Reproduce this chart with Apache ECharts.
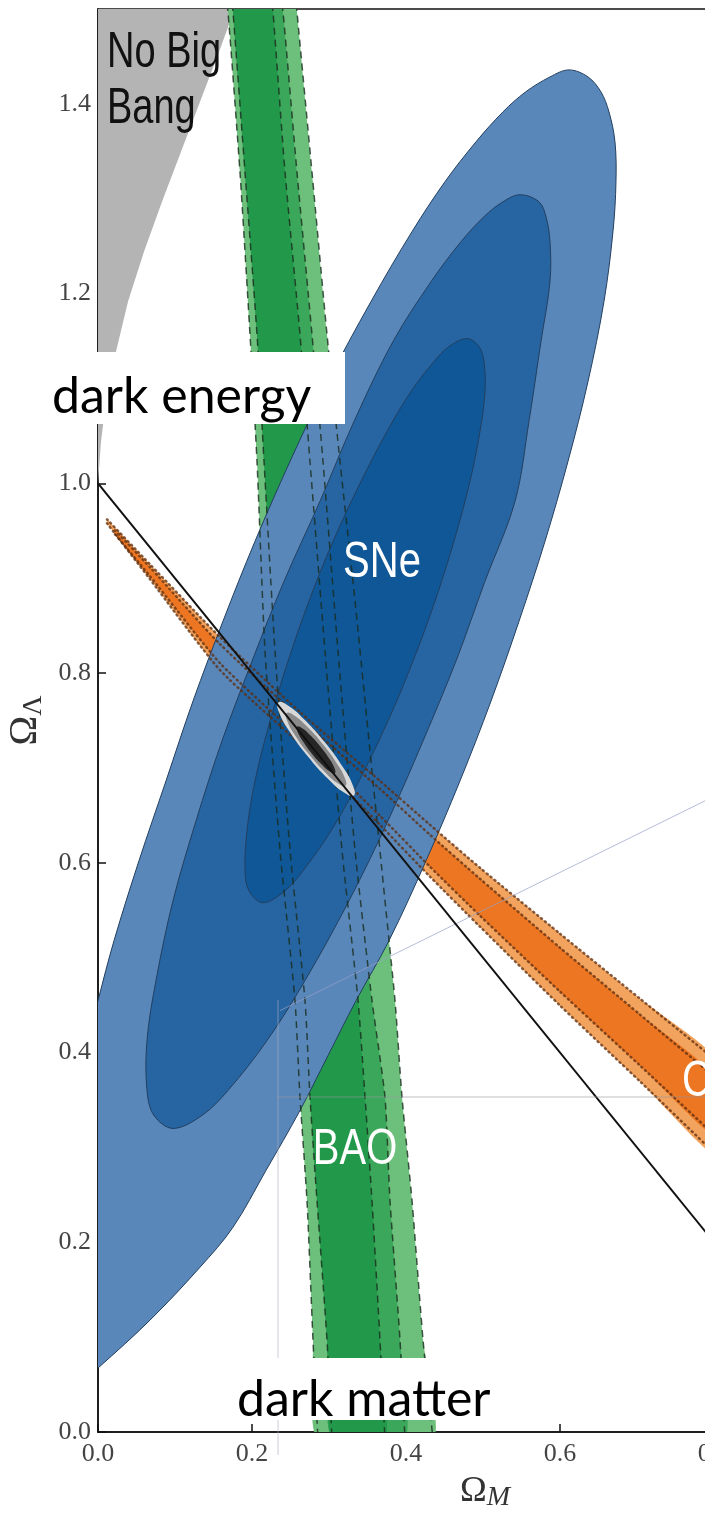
<!DOCTYPE html>
<html><head><meta charset="utf-8">
<script src="https://cdn.jsdelivr.net/npm/echarts@6/dist/echarts.min.js"></script>
<style>html,body{margin:0;padding:0;background:#fff;overflow:hidden}#c{width:719px;height:1520px}</style>
</head><body><div id="c"></div>
<script>
// ---- data (Omega_M, Omega_Lambda) ----
const noBigBang = [[0,1.5],[0.1775,1.5],[0.1571,1.4547],[0.1325,1.4021],[0.1078,1.3495],[0.0831,1.2968],[0.0597,1.2442],[0.039,1.1916],[0.0234,1.1389],[0.0104,1.0863],[0.0039,1.0442],[0,1.0]];

const sneOuter = [[0.6117,1.4358],[0.6364,1.4284],[0.6532,1.4126],[0.6636,1.3916],[0.6714,1.36],[0.6727,1.3179],[0.6688,1.2653],[0.6571,1.1916],[0.6364,1.1074],[0.6104,1.0232],[0.5805,0.9389],[0.5468,0.8547],[0.5104,0.7705],[0.4701,0.6863],[0.426,0.6021],[0.3779,0.5179],[0.3351,0.4547],[0.2987,0.3968],[0.2623,0.3389],[0.2182,0.2758],[0.1753,0.2158],[0.1325,0.1737],[0.0675,0.1179],[0,0.0674],[-0.0364,0.0421],[-0.0623,0.0284],[-0.0779,0.0495],[-0.0753,0.0968],[-0.0623,0.1811],[-0.0468,0.2758],[-0.026,0.3705],[0,0.4547],[0.0208,0.5179],[0.0532,0.6021],[0.0883,0.6863],[0.1234,0.7705],[0.1623,0.8547],[0.2039,0.9389],[0.2494,1.0232],[0.2987,1.1074],[0.3545,1.1916],[0.4078,1.2653],[0.4506,1.3179],[0.4909,1.36],[0.526,1.3916],[0.5553,1.4126],[0.587,1.4284]];
const sneMiddle = [[0.5481,1.3042],[0.5727,1.2968],[0.5818,1.2811],[0.587,1.2547],[0.587,1.2126],[0.5753,1.1495],[0.5597,1.0653],[0.5416,0.9811],[0.5026,0.8968],[0.4649,0.8126],[0.4221,0.7284],[0.3766,0.6442],[0.326,0.56],[0.2688,0.4758],[0.2195,0.4126],[0.1688,0.36],[0.1351,0.3337],[0.0974,0.32],[0.0727,0.3337],[0.0636,0.36],[0.0636,0.4126],[0.0753,0.4758],[0.0974,0.56],[0.1273,0.6442],[0.161,0.7284],[0.2,0.8126],[0.2416,0.8968],[0.2883,0.9811],[0.3325,1.0653],[0.3831,1.1495],[0.4325,1.2126],[0.4714,1.2547],[0.5013,1.2811],[0.526,1.2968]];
const sneInner = [[0.4792,1.1526],[0.4948,1.1442],[0.5013,1.1284],[0.5026,1.0968],[0.4961,1.0547],[0.4831,1.0021],[0.4623,0.9389],[0.4377,0.8758],[0.4091,0.8126],[0.3766,0.7495],[0.339,0.6863],[0.3026,0.6337],[0.2662,0.5916],[0.2429,0.5705],[0.2143,0.5579],[0.1961,0.5705],[0.1909,0.5916],[0.1935,0.6337],[0.2039,0.6863],[0.2234,0.7495],[0.2468,0.8126],[0.274,0.8758],[0.3052,0.9389],[0.3416,1.0021],[0.3753,1.0547],[0.4065,1.0968],[0.4364,1.1284],[0.4558,1.1442]];

const baoOuterLeft = [[0.1649,1.518],[0.1688,1.497],[0.1844,1.328],[0.1974,1.157],[0.2065,1.023],[0.2169,0.823],[0.2364,0.613],[0.2558,0.455],[0.2623,0.353],[0.2714,0.244],[0.2792,0.097],[0.2857,-0.008]];
const baoOuterRight = [[0.2558,1.518],[0.2584,1.497],[0.2779,1.328],[0.2974,1.157],[0.3143,1.023],[0.3338,0.876],[0.3532,0.718],[0.3727,0.56],[0.3857,0.455],[0.3948,0.353],[0.4078,0.244],[0.4221,0.097],[0.4351,-0.008]];
const baoDarkLeft = [[0.1727,1.518],[0.1753,1.497],[0.1909,1.328],[0.2065,1.157],[0.2156,1.023],[0.2299,0.823],[0.2494,0.613],[0.2688,0.455],[0.2753,0.353],[0.2844,0.244],[0.2974,0.097],[0.3039,-0.008]];
const baoDarkRight = [[0.2247,1.518],[0.2273,1.497],[0.2429,1.328],[0.2623,1.157],[0.2753,1.023],[0.2948,0.823],[0.3169,0.613],[0.3377,0.455],[0.3468,0.353],[0.3558,0.244],[0.3662,0.097],[0.3727,-0.008]];
const baoMidRight = [[0.2364,1.518],[0.2403,1.497],[0.2584,1.328],[0.2779,1.157],[0.2922,1.023],[0.3117,0.823],[0.3338,0.613],[0.3558,0.455],[0.3727,0.353],[0.3792,0.244],[0.3922,0.097],[0.3987,-0.008]];

const cmbOuterUpper = [[0.0117,0.9621],[0.0675,0.9147],[0.1584,0.8379],[0.2623,0.7589],[0.3662,0.6863],[0.4312,0.64],[0.4961,0.5947],[0.6,0.5253],[0.7039,0.4568],[0.8078,0.3884]];
const cmbOuterLower = [[0.0117,0.9579],[0.0675,0.8989],[0.1584,0.8032],[0.2623,0.7253],[0.3662,0.64],[0.4312,0.5853],[0.4961,0.5326],[0.6,0.4495],[0.7039,0.3695],[0.8078,0.2884]];
const cmbInnerUpper = [[0.0221,0.9505],[0.0675,0.9116],[0.1584,0.8305],[0.2623,0.7526],[0.3662,0.6779],[0.4312,0.6295],[0.4961,0.5832],[0.6,0.5105],[0.7039,0.44],[0.8078,0.3695]];
const cmbInnerLower = [[0.0221,0.9463],[0.0675,0.9021],[0.1584,0.8105],[0.2623,0.7316],[0.3662,0.6495],[0.4312,0.5958],[0.4961,0.5442],[0.6,0.4642],[0.7039,0.3863],[0.8078,0.3074]];

const combOuter = [[0.3322,0.6709],[0.3312,0.6812],[0.3173,0.7018],[0.2943,0.7273],[0.2682,0.7508],[0.2462,0.7662],[0.234,0.7691],[0.2351,0.7588],[0.249,0.7382],[0.2721,0.7127],[0.2981,0.6892],[0.32,0.6738]];
const combMid = [[0.3214,0.6812],[0.3206,0.6893],[0.3098,0.7053],[0.2918,0.7252],[0.2715,0.7436],[0.2543,0.7556],[0.2448,0.7578],[0.2457,0.7498],[0.2565,0.7337],[0.2745,0.7138],[0.2948,0.6955],[0.3119,0.6835]];
const combCore = [[0.3077,0.6944],[0.3072,0.6996],[0.3002,0.7099],[0.2887,0.7226],[0.2757,0.7344],[0.2647,0.7421],[0.2586,0.7435],[0.2591,0.7384],[0.2661,0.7281],[0.2776,0.7153],[0.2906,0.7036],[0.3016,0.6959]];

const flatLine = [[0,1],[1,0]];
// faint ghost trend line visible in the lower right of the picture
const ghostTrend = [[0.2364,0.4442],[0.7883,0.6653]];

const centeredLabels = ['SNe','BAO'];
const centeredLabelPos = [[0.3688,0.9158],[0.3338,0.2968]];
const leftLabels = ['CMB'];
const leftLabelPos = [[0.7584,0.3684]];
const noBigBangLines = ['No Big','Bang'];
const noBigBangPos = [[0.0117,1.4537],[0.0117,1.3937]];

// ---- helpers ----
function rev(a){ return a.slice().reverse(); }
function shapeSeries(pts, z, style, isLine, smooth){
  return {
    type:'custom', coordinateSystem:'cartesian2d', clip:true, silent:true, z:z,
    data: pts,
    renderItem: function(params, api){
      if (params.dataIndex !== 0) return null;
      return {
        type: isLine ? 'polyline' : 'polygon',
        shape: { points: pts.map(function(p){ return api.coord(p); }), smooth: smooth || 0 },
        style: Object.assign({}, style)
      };
    }
  };
}
function textSeries(texts, pos, z, style, align, sy){
  return {
    type:'custom', coordinateSystem:'cartesian2d', clip:false, silent:true, z:z,
    data: pos,
    renderItem: function(params, api){
      const i = params.dataIndex;
      const c = api.coord(pos[i]);
      return {
        type:'text', x:c[0], y:c[1], scaleY:sy,
        style: Object.assign({ text: texts[i], align: align, verticalAlign:'middle' }, style)
      };
    }
  };
}

const baoLine = { fill:null, stroke:'rgba(25,45,30,0.8)', lineWidth:1.5, lineDash:[7,5] };
const cmbLine = { fill:null, stroke:'rgba(95,45,15,0.75)', lineWidth:2.5, lineDash:[1,4], lineCap:'round' };
const sneEdge = '#223f60';
const whiteLabel = { fill:'#fff', fontFamily:'Liberation Sans', fontSize:40 };

const series = [
  shapeSeries(noBigBang, 1, { fill:'#b4b4b4' }, false, 0),
  shapeSeries(baoOuterLeft.concat(rev(baoOuterRight)), 2, { fill:'#6dc07b' }, false, 0.2),
  shapeSeries(baoDarkLeft.concat(rev(baoMidRight)), 3, { fill:'#3ba75a' }, false, 0.2),
  shapeSeries(baoDarkLeft.concat(rev(baoDarkRight)), 4, { fill:'#22994a' }, false, 0.2),
  shapeSeries(cmbOuterUpper.concat(rev(cmbOuterLower)), 5, { fill:'#f2a35e' }, false, 0.2),
  shapeSeries(cmbInnerUpper.concat(rev(cmbInnerLower)), 6, { fill:'#ec7622' }, false, 0.2),
  shapeSeries(sneOuter, 7, { fill:'#5a87b9', stroke:sneEdge, lineWidth:1 }, false, 0.35),
  shapeSeries(sneMiddle, 8, { fill:'#2765a2', stroke:sneEdge, lineWidth:1 }, false, 0.35),
  shapeSeries(sneInner, 9, { fill:'#0f5797', stroke:sneEdge, lineWidth:1 }, false, 0.35),
  shapeSeries(baoOuterLeft, 10, baoLine, true, 0.2),
  shapeSeries(baoDarkLeft, 10, baoLine, true, 0.2),
  shapeSeries(baoDarkRight, 10, baoLine, true, 0.2),
  shapeSeries(baoMidRight, 10, baoLine, true, 0.2),
  shapeSeries(baoOuterRight, 10, baoLine, true, 0.2),
  shapeSeries(cmbOuterUpper, 10, cmbLine, true, 0.2),
  shapeSeries(cmbInnerUpper, 10, cmbLine, true, 0.2),
  shapeSeries(cmbInnerLower, 10, cmbLine, true, 0.2),
  shapeSeries(cmbOuterLower, 10, cmbLine, true, 0.2),
  shapeSeries(combOuter, 11, { fill:'#d9d9d9' }, false, 0.5),
  shapeSeries(combMid, 12, { fill:'#8a8a8a' }, false, 0.5),
  shapeSeries(combCore, 13, { fill:'#262626' }, false, 0.5),
  { type:'line', data: ghostTrend, z:13, symbol:'none', silent:true, clip:true,
    lineStyle:{ color:'rgba(150,160,200,0.7)', width:1 } },
  { type:'line', data: flatLine, z:14, symbol:'none', silent:true, clip:true,
    lineStyle:{ color:'#111', width:2 } },
  textSeries(centeredLabels, centeredLabelPos, 15, whiteLabel, 'center', 1.25),
  textSeries(leftLabels, leftLabelPos, 15, whiteLabel, 'left', 1.25),
  textSeries(noBigBangLines, noBigBangPos, 15, { fill:'#111', fontFamily:'Liberation Sans', fontSize:38 }, 'left', 1.3)
];

const labelStyle = { fontFamily:'Liberation Serif', fontSize:26, color:'#444', formatter: function(v){ return v.toFixed(1); } };

const chart = echarts.init(document.getElementById('c'), null, { renderer:'canvas' });
chart.setOption({
  animation:false,
  backgroundColor:'#fff',
  grid:{ left:98, right:5, top:9, bottom:88, containLabel:false, outerBoundsMode:'none',
         show:true, borderColor:'#111', borderWidth:1.5 },
  xAxis:{
    type:'value', min:0, max:0.8, interval:0.2,
    name:'{o|Ω}{s|M}', nameLocation:'middle', nameGap:40,
    nameTextStyle:{ padding:[0,0,0,158], rich:{
      o:{ fontFamily:'Liberation Serif', fontSize:36, color:'#333', lineHeight:40 },
      s:{ fontFamily:'Liberation Serif', fontStyle:'italic', fontSize:28, color:'#333', lineHeight:40, verticalAlign:'bottom' } } },
    axisLine:{ lineStyle:{ color:'#111', width:1.5 } },
    axisTick:{ inside:true, length:8, lineStyle:{ color:'#111', width:1.5 } },
    axisLabel: Object.assign({ margin:9 }, labelStyle),
    splitLine:{ show:false }
  },
  yAxis:{
    type:'value', min:0, max:1.5, interval:0.2,
    name:'{o|Ω}{s|Λ}', nameLocation:'middle', nameGap:50, nameRotate:90,
    nameTextStyle:{ rich:{
      o:{ fontFamily:'Liberation Serif', fontSize:40, color:'#333', lineHeight:44 },
      s:{ fontFamily:'Liberation Serif', fontSize:28, color:'#333', lineHeight:44, verticalAlign:'bottom' } } },
    axisLine:{ lineStyle:{ color:'#111', width:1.5 } },
    axisTick:{ inside:true, length:8, lineStyle:{ color:'#111', width:1.5 } },
    axisLabel: Object.assign({ margin:7, showMaxLabel:false }, labelStyle),
    splitLine:{ show:false }
  },
  graphic:[
    { type:'line', z:50, shape:{ x1:278, y1:1097, x2:705, y2:1097 }, style:{ stroke:'rgba(150,150,160,0.6)', lineWidth:1 } },
    { type:'line', z:50, shape:{ x1:278, y1:1000, x2:278, y2:1455 }, style:{ stroke:'rgba(170,175,195,0.6)', lineWidth:1 } },
    { type:'rect', z:100, shape:{ x:40, y:352, width:305, height:72 }, style:{ fill:'#fff' } },
    { type:'text', z:101, x:52, y:422, style:{ text:'dark energy', fontFamily:'Lato', fontSize:50, fill:'#000', verticalAlign:'bottom' } },
    { type:'rect', z:100, shape:{ x:232, y:1358, width:263, height:62 }, style:{ fill:'#fff' } },
    { type:'text', z:101, x:237, y:1425, style:{ text:'dark matter', fontFamily:'Lato', fontSize:50, fill:'#000', verticalAlign:'bottom' } },
    { type:'rect', z:110, shape:{ x:705, y:0, width:14, height:1520 }, style:{ fill:'#fff' } }
  ],
  series: series
});
</script>
</body></html>
